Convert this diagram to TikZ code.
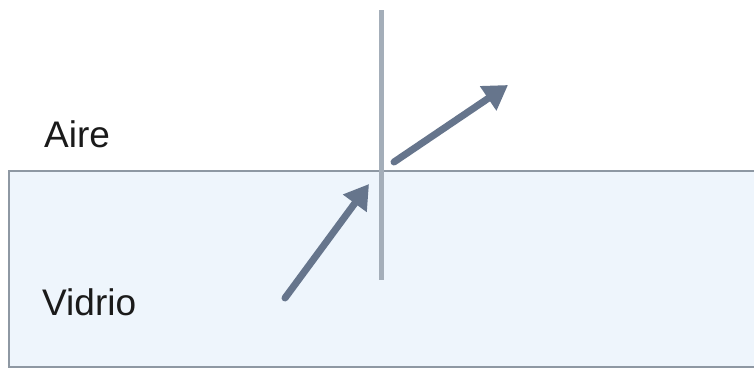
\documentclass[tikz,border=0pt]{standalone}
\usepackage{fontspec}
\setmainfont{Liberation Sans}
\usetikzlibrary{arrows.meta}
\definecolor{glassfill}{HTML}{EEF5FC}
\definecolor{glassedge}{HTML}{8E98A3}
\definecolor{normalc}{HTML}{A4AEB9}
\definecolor{rayc}{HTML}{66758C}
\definecolor{txt}{HTML}{1A1A1A}
\tikzset{
  ray/.style={draw=rayc, line width=7pt, line cap=round, -{Triangle[length=24pt,width=28pt]}},
  label/.style={font=\fontsize{37}{42}\selectfont, text=txt, inner sep=0pt, anchor=base west},
}
\begin{document}
\begin{tikzpicture}[x=1pt,y=-1pt]
\useasboundingbox (0,0) rectangle (754,370);
\fill[white] (0,0) rectangle (754,370);
\draw[glassedge, fill=glassfill, line width=2.5pt] (9,171) rectangle (770,367);
\coordinate (ntop) at (381,10);
\coordinate (nbot) at (381,280);
\draw[normalc, line width=5pt] (ntop) -- (nbot);
\coordinate (inA) at (285,298);
\coordinate (inB) at (369,184);
\coordinate (outA) at (394,162);
\coordinate (outB) at (508,85);
\draw[ray] (inA) -- (inB);
\draw[ray] (outA) -- (outB);
\node[label] (aire) at (44,147) {Aire};
\node[label] (vidrio) at (42,315) {Vidrio};
\end{tikzpicture}
\end{document}
